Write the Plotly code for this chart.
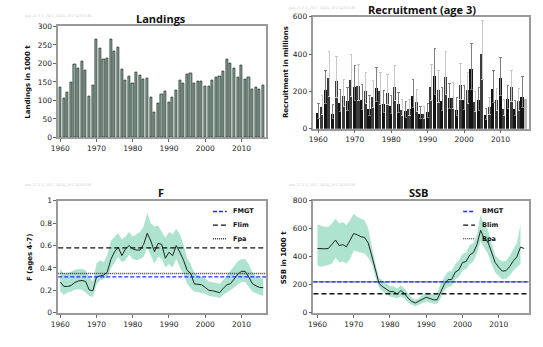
import plotly.graph_objects as go

# ---------------- data ----------------
years = list(range(1960, 2017))
landings = [134, 106, 121, 149, 198, 187, 205, 182, 112, 141,
            265, 241, 211, 214, 264, 233, 243, 183, 155, 165,
            145, 175, 167, 157, 159, 107, 68, 92, 116, 124,
            94, 107, 128, 155, 147, 170, 172, 145, 152, 151,
            137, 137, 155, 162, 165, 178, 212, 199, 186, 162,
            194, 157, 162, 131, 134, 131, 141]

rec_years = list(range(1960, 2018))
recruitment = [87, 117, 209, 273, 83, 256, 137, 177, 148, 264,
               226, 231, 157, 205, 106, 170, 221, 202, 136, 195,
               122, 226, 132, 104, 96, 106, 177, 143, 80, 80,
               90, 226, 283, 210, 151, 280, 165, 165, 104, 237,
               157, 209, 323, 143, 153, 403, 75, 117, 216, 153,
               273, 108, 162, 223, 106, 151, 174, 163]
rec_upper = [136, 179, 313, 412, 130, 388, 209, 266, 221, 400,
             339, 344, 235, 303, 177, 256, 329, 303, 203, 292,
             177, 339, 195, 157, 144, 157, 266, 209, 120, 120,
             136, 344, 428, 313, 221, 412, 242, 245, 165, 350,
             230, 301, 454, 200, 223, 577, 106, 165, 310, 214,
             383, 158, 231, 311, 153, 214, 277]
rec_lower = [55, 78, 135, 175, 52, 165, 90, 118, 98, 170,
             150, 152, 104, 135, 68, 112, 145, 132, 88, 128,
             80, 150, 86, 68, 62, 70, 116, 94, 52, 52,
             58, 150, 185, 138, 98, 182, 108, 108, 68, 155,
             102, 136, 210, 94, 100, 265, 48, 76, 140, 100,
             178, 70, 106, 146, 68, 98, 114]

f_mean = [0.275, 0.235, 0.235, 0.243, 0.27, 0.284, 0.288, 0.28, 0.203, 0.197,
          0.32, 0.33, 0.336, 0.365, 0.48, 0.545, 0.585, 0.51, 0.57, 0.6,
          0.57, 0.56, 0.56, 0.61, 0.71, 0.64, 0.545, 0.62, 0.61, 0.487,
          0.54, 0.51, 0.6, 0.54, 0.47, 0.38, 0.35, 0.258, 0.255, 0.25,
          0.226, 0.2, 0.197, 0.19, 0.18, 0.22, 0.25, 0.26, 0.3, 0.345,
          0.37, 0.37, 0.32, 0.26, 0.24, 0.226, 0.224]
f_upper = [0.39, 0.35, 0.35, 0.365, 0.385, 0.39, 0.39, 0.38, 0.32, 0.28,
           0.44, 0.47, 0.45, 0.52, 0.64, 0.68, 0.71, 0.655, 0.68, 0.72,
           0.68, 0.70, 0.72, 0.77, 0.89, 0.80, 0.77, 0.78, 0.73, 0.67,
           0.72, 0.70, 0.75, 0.70, 0.61, 0.49, 0.435, 0.35, 0.335, 0.32,
           0.305, 0.28, 0.275, 0.27, 0.26, 0.295, 0.335, 0.375, 0.42, 0.46,
           0.48, 0.48, 0.435, 0.36, 0.325, 0.31, 0.305]
f_lower = [0.19, 0.16, 0.18, 0.19, 0.205, 0.21, 0.205, 0.18, 0.15, 0.14,
           0.25, 0.29, 0.30, 0.32, 0.40, 0.45, 0.50, 0.45, 0.47, 0.52,
           0.48, 0.47, 0.48, 0.50, 0.58, 0.51, 0.44, 0.50, 0.48, 0.405,
           0.435, 0.405, 0.48, 0.405, 0.35, 0.26, 0.22, 0.19, 0.18, 0.175,
           0.17, 0.15, 0.145, 0.14, 0.13, 0.16, 0.18, 0.20, 0.226, 0.255,
           0.275, 0.275, 0.23, 0.19, 0.175, 0.16, 0.15]

ssb_years = list(range(1960, 2018))
ssb_mean = [459, 457, 457, 459, 487, 519, 480, 487, 471, 522,
            566, 557, 543, 538, 499, 406, 301, 209, 186, 167,
            151, 151, 134, 158, 139, 104, 81, 70, 81, 97,
            111, 104, 93, 93, 151, 204, 237, 237, 290, 306,
            359, 366, 413, 429, 487, 589, 527, 506, 434, 359,
            325, 297, 301, 329, 371, 399, 469, 459]
ssb_upper = [631, 621, 614, 614, 638, 672, 638, 649, 626, 661,
             707, 684, 672, 661, 603, 464, 348, 248, 227, 209,
             190, 190, 174, 197, 174, 139, 109, 93, 104, 128,
             144, 139, 128, 139, 209, 255, 295, 297, 348, 371,
             422, 429, 482, 499, 557, 700, 626, 591, 510, 413,
             383, 366, 371, 406, 452, 499, 631]
ssb_lower = [336, 329, 336, 341, 352, 394, 359, 366, 352, 383,
             445, 441, 429, 422, 394, 348, 255, 181, 151, 134,
             116, 111, 104, 116, 104, 74, 58, 46, 58, 70,
             81, 74, 65, 65, 104, 158, 186, 190, 237, 255,
             301, 313, 348, 366, 422, 510, 464, 422, 348, 290,
             260, 237, 243, 267, 301, 325, 348]

f_ref_names = ["FMGT", "Flim", "Fpa"]
f_ref_values = [0.32, 0.58, 0.35]
b_ref_names = ["BMGT", "Blim", "Bpa"]
b_ref_values = [220, 136, 220]

# ---------------- style ----------------
W, H = 543, 347
FONT = "DejaVu Sans"
TFONT = "Open Sans"
BAND = "#ade3cf"

LINE_STYLE = {
    "FMGT": ("#1f2fff", 1.2, "4px,2px"),
    "Flim": ("#111111", 1.3, "5px,3px"),
    "Fpa": ("#333333", 1.5, "1px,1px"),
    "BMGT": ("#1f2fff", 1.2, "4px,2px"),
    "Blim": ("#111111", 1.3, "5px,3px"),
    "Bpa": ("#111111", 1.2, "1px,1px"),
}


def style(name, legend=False):
    c, w, d = LINE_STYLE[name]
    if legend and c != "#111111" and c != "#333333":
        w = 1.6
    return dict(color=c, width=w, dash=d)


def px_x(a, b):
    return [a / W, b / W]


def px_y(top, bottom):
    return [1 - bottom / H, 1 - top / H]


fig = go.Figure()

# Landings
fig.add_trace(go.Bar(x=years, y=landings, width=0.6,
                     marker=dict(color="#8da699", line=dict(color="#1a2a22", width=0.7)),
                     xaxis="x", yaxis="y", showlegend=False))

# Recruitment (alternating shades)
for parity, bcol, ecol in [(0, "#141414", "#808080"), (1, "#3c3c3c", "#c8c8c8")]:
    xs, ys, ep, em = [], [], [], []
    for i, yr in enumerate(rec_years[:len(rec_upper)]):
        if i % 2 == parity:
            xs.append(yr)
            ys.append(recruitment[i])
            ep.append(rec_upper[i] - recruitment[i])
            em.append(recruitment[i] - rec_lower[i])
    fig.add_trace(go.Bar(x=xs, y=ys, width=0.85, marker=dict(color=bcol, line=dict(width=0)),
                         error_y=dict(type="data", symmetric=False, array=ep, arrayminus=em,
                                      color=ecol, thickness=1, width=1.2),
                         xaxis="x2", yaxis="y2", showlegend=False))
fig.add_trace(go.Bar(x=rec_years[len(rec_upper):], y=recruitment[len(rec_upper):], width=0.85,
                     marker=dict(color="#b8b8b8", line=dict(width=0)),
                     xaxis="x2", yaxis="y2", showlegend=False))

# F band + line
fig.add_trace(go.Scatter(x=years + years[::-1], y=f_upper + f_lower[::-1], fill="toself",
                         fillcolor=BAND, line=dict(width=0), mode="lines",
                         xaxis="x3", yaxis="y3", showlegend=False, hoverinfo="skip"))
fig.add_trace(go.Scatter(x=years, y=f_mean, mode="lines", line=dict(color="#222", width=1),
                         xaxis="x3", yaxis="y3", showlegend=False))

# SSB band + line
band_years = ssb_years[:len(ssb_upper)]
fig.add_trace(go.Scatter(x=band_years + band_years[::-1], y=ssb_upper + ssb_lower[::-1], fill="toself",
                         fillcolor=BAND, line=dict(width=0), mode="lines",
                         xaxis="x4", yaxis="y4", showlegend=False, hoverinfo="skip"))
fig.add_trace(go.Scatter(x=ssb_years, y=ssb_mean, mode="lines", line=dict(color="#222", width=1),
                         xaxis="x4", yaxis="y4", showlegend=False))

shapes = []
annotations = []

for name, val in zip(f_ref_names, f_ref_values):
    shapes.append(dict(type="line", xref="x3 domain", yref="y3", x0=0, x1=1, y0=val, y1=val,
                       line=style(name), layer="above"))
for name, val in sorted(zip(b_ref_names, b_ref_values), key=lambda t: t[0] == "BMGT"):
    shapes.append(dict(type="line", xref="x4 domain", yref="y4", x0=0, x1=1, y0=val, y1=val,
                       line=style(name), layer="above"))

# legends (drawn in paper pixel coordinates)
leg_rows = [213, 227, 241]
for i, name in enumerate(f_ref_names):
    yy = 1 - leg_rows[i] / H
    shapes.append(dict(type="line", xref="paper", yref="paper", x0=208 / W, x1=222 / W,
                       y0=yy, y1=yy, line=style(name, True), layer="above"))
    annotations.append(dict(text="<b>%s</b>" % name, xref="paper", yref="paper", x=226 / W, y=yy,
                            xanchor="left", yanchor="middle", showarrow=False,
                            font=dict(family=FONT, size=6.5, color="#111")))
for i, name in enumerate(b_ref_names):
    yy = 1 - leg_rows[i] / H
    shapes.append(dict(type="line", xref="paper", yref="paper", x0=462 / W, x1=474 / W,
                       y0=yy, y1=yy, line=style(name, True), layer="above"))
    annotations.append(dict(text="<b>%s</b>" % name, xref="paper", yref="paper", x=479 / W, y=yy,
                            xanchor="left", yanchor="middle", showarrow=False,
                            font=dict(family=FONT, size=6.5, color="#111")))

# titles
titles = [("Landings", 155, 15), ("Recruitment (age 3)", 420, 6), ("F", 155, 194), ("SSB", 417, 194)]
for t, x, y in titles:
    annotations.append(dict(text="<b>%s</b>" % t, xref="paper", yref="paper", x=x / W, y=1 - y / H,
                            xanchor="center", yanchor="middle", showarrow=False,
                            font=dict(family=TFONT, size=11, color="#111")))
ytitles = [("Landings in 1000 t", 20, 80), ("Recruitment in millions", 282, 70),
           ("F (ages 4-7)", 23, 260), ("SSB in 1000 t", 280, 260)]
for t, x, y in ytitles:
    annotations.append(dict(text="<b>%s</b>" % t, xref="paper", yref="paper", x=x / W, y=1 - y / H,
                            xanchor="center", yanchor="middle", showarrow=False, textangle=-90,
                            font=dict(family=FONT, size=7, color="#111")))
# faint watermark ids
for x, y in [(15, 12), (283, 4), (15, 186), (283, 186)]:
    annotations.append(dict(text="pok.27.3-2_2017_0424_20174261538", xref="paper", yref="paper",
                            x=x / W, y=1 - y / H, xanchor="left", yanchor="middle", showarrow=False,
                            font=dict(family=FONT, size=3.5, color="#d0d0d0")))

axis_common = dict(showgrid=False, zeroline=False, showline=True, linecolor="#9a9a9a", linewidth=1.5,
                   mirror=True, ticks="outside", ticklen=3, tickcolor="#666", tickwidth=1,
                   tickfont=dict(family=FONT, size=7.5, color="#222"))
xticks = dict(tickvals=[1960, 1970, 1980, 1990, 2000, 2010])

fig.update_layout(
    width=W, height=H, margin=dict(l=0, r=0, t=0, b=0),
    paper_bgcolor="white", plot_bgcolor="white", barmode="overlay", bargap=0,
    xaxis=dict(domain=px_x(51, 262), anchor="y", range=[1959.45, 2016.8], **xticks, **axis_common),
    yaxis=dict(domain=px_y(23, 137), anchor="x", range=[0, 300], dtick=50, **axis_common),
    xaxis2=dict(domain=px_x(310, 529), anchor="y2", range=[1958.65, 2017.85], **xticks, **axis_common),
    yaxis2=dict(domain=px_y(13, 128), anchor="x2", range=[0, 600], dtick=200, **axis_common),
    xaxis3=dict(domain=px_x(51, 262), anchor="y3", range=[1959.45, 2016.8], **xticks, **axis_common),
    yaxis3=dict(domain=px_y(202, 317), anchor="x3", range=[0, 1], dtick=0.2, **axis_common),
    xaxis4=dict(domain=px_x(310, 529), anchor="y4", range=[1958.9, 2018.4], **xticks, **axis_common),
    yaxis4=dict(domain=px_y(202, 317), anchor="x4", range=[0, 800], dtick=200, **axis_common),
    shapes=shapes, annotations=annotations,
)

fig.write_html("out.html")
